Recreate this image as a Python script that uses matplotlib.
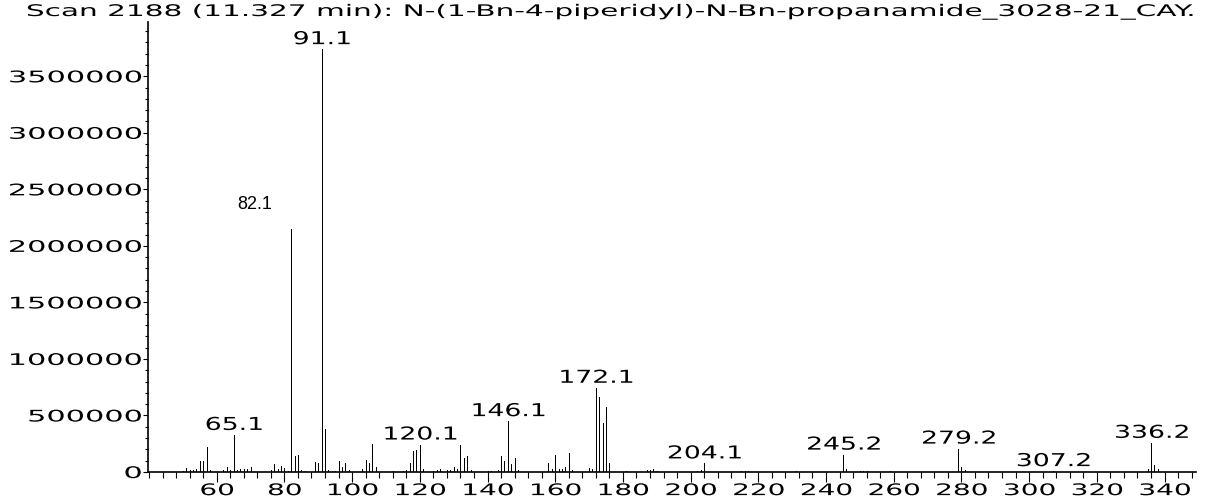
import numpy as np
import matplotlib
matplotlib.use("Agg")
import matplotlib.pyplot as plt
from matplotlib.patheffects import AbstractPathEffect
from matplotlib.transforms import Affine2D
from matplotlib.ticker import MultipleLocator

title = "Scan 2188 (11.327 min): N-(1-Bn-4-piperidyl)-N-Bn-propanamide_3028-21_CAY."

# m/z and abundance
mz = [50, 51, 52, 53, 54, 55, 56, 57, 58,
      62, 63, 64, 65, 66, 67, 68, 69, 70,
      76, 77, 78, 79, 80, 81, 82, 83, 84, 85, 86,
      89, 90, 91, 92, 93, 94, 95, 96, 97, 98, 99,
      103, 104, 105, 106, 107, 112, 115, 116, 117, 118, 119, 120, 121,
      124, 125, 126, 128, 129, 130, 131, 132, 133, 134, 135,
      140, 141, 143, 144, 145, 146, 147, 148, 149,
      158, 159, 160, 161, 162, 163, 164, 165, 170, 171,
      172, 173, 174, 175, 176, 181, 187, 188, 189, 190,
      202, 203, 204, 215, 216, 217, 231, 245, 246, 250, 251, 252, 259,
      279, 280, 281, 307, 335, 336, 337, 338]
intensity = [12000, 35000, 15000, 20000, 30000, 97000, 97000, 225000, 15000,
             15000, 42000, 15000, 328000, 15000, 25000, 30000, 30000, 42000,
             15000, 74000, 30000, 53000, 38000, 12000, 2150000, 139000, 154000, 15000, 12000,
             89000, 80000, 3740000, 382000, 15000, 12000, 12000, 95000, 44000, 83000, 15000,
             24000, 110000, 83000, 252000, 44000, 12000, 12000, 15000, 83000, 184000, 192000, 243000, 30000,
             10000, 15000, 30000, 15000, 15000, 44000, 24000, 240000, 127000, 140000, 15000,
             12000, 12000, 15000, 145000, 98000, 450000, 74000, 127000, 15000,
             77000, 24000, 148000, 30000, 30000, 47000, 166000, 18000, 36000, 24000,
             745000, 660000, 435000, 571000, 77000, 12000, 18000, 18000, 24000, 12000,
             12000, 15000, 76000, 12000, 12000, 12000, 10000, 154000, 24000, 12000, 12000, 12000, 10000,
             207000, 44000, 15000, 8000, 30000, 258000, 59000, 24000]

label_text = ["65.1", "91.1", "120.1", "146.1", "172.1", "204.1",
              "245.2", "279.2", "307.2", "336.2"]
small_label = "82.1"

y_ticks = [0, 500000, 1000000, 1500000, 2000000, 2500000, 3000000, 3500000]
x_ticks = list(range(60, 341, 20))


class Stretch(AbstractPathEffect):
    # the instrument font is very wide, so widen the glyphs
    def __init__(self, sx, anchor="center"):
        super().__init__()
        self.sx = sx
        self.anchor = anchor

    def draw_path(self, renderer, gc, tpath, affine, rgbFace=None):
        xs = tpath.vertices[:, 0]
        if len(xs) == 0:
            return
        ref = {"left": 0.0, "center": (xs.min() + xs.max()) / 2, "right": xs.max()}[self.anchor]
        t = Affine2D().translate(-ref, 0).scale(self.sx, 1).translate(ref, 0)
        renderer.draw_path(gc, tpath, t + affine, rgbFace)


fig = plt.figure(figsize=(12.26, 5.01), dpi=100)
ax = fig.add_axes([148 / 1226, 29 / 501, 1048 / 1226, 450 / 501])

ax.vlines(mz, 0, intensity, colors="black", linewidth=0.72, antialiased=False)

ax.set_xlim(39.7, 349.3)
ax.set_ylim(0, 3.98e6)

ax.spines["top"].set_visible(False)
ax.spines["right"].set_visible(False)
for s in ["left", "bottom"]:
    ax.spines[s].set_linewidth(1.2)

ax.set_xticks(x_ticks, [str(v) for v in x_ticks])
ax.xaxis.set_minor_locator(MultipleLocator(4))
ax.set_yticks(y_ticks, [str(v) for v in y_ticks])
ax.yaxis.set_minor_locator(MultipleLocator(100000))

ax.tick_params(axis="x", which="major", direction="out", length=7, width=0.8, pad=1, labelsize=11.5)
ax.tick_params(axis="x", which="minor", direction="out", length=4, width=0.8)
ax.tick_params(axis="y", which="major", direction="out", length=3.5, width=0.8, pad=1, labelsize=11.5)
ax.tick_params(axis="y", which="minor", direction="out", length=2.5, width=0.8)

for lab in ax.get_xticklabels():
    lab.set_path_effects([Stretch(1.75, "center")])
for lab in ax.get_yticklabels():
    lab.set_path_effects([Stretch(1.9, "right")])

top = dict(zip(mz, intensity))
for txt in label_text:
    x = float(txt)
    ax.annotate(txt, xy=(x, top[round(x)]), xytext=(0, 1), textcoords="offset pixels",
                ha="center", va="bottom", fontsize=12.8, annotation_clip=False,
                path_effects=[Stretch(1.5)])

x = float(small_label)
ax.annotate(small_label, xy=(x, top[round(x)]), xytext=(-37, 24), textcoords="offset pixels",
            ha="center", va="center", fontsize=13, family="Liberation Sans")

fig.text(0.499, 1 - 4 / 501, title, ha="center", va="top", fontsize=11.5,
         path_effects=[Stretch(1.85)])

fig.savefig("out.png", dpi=100)
